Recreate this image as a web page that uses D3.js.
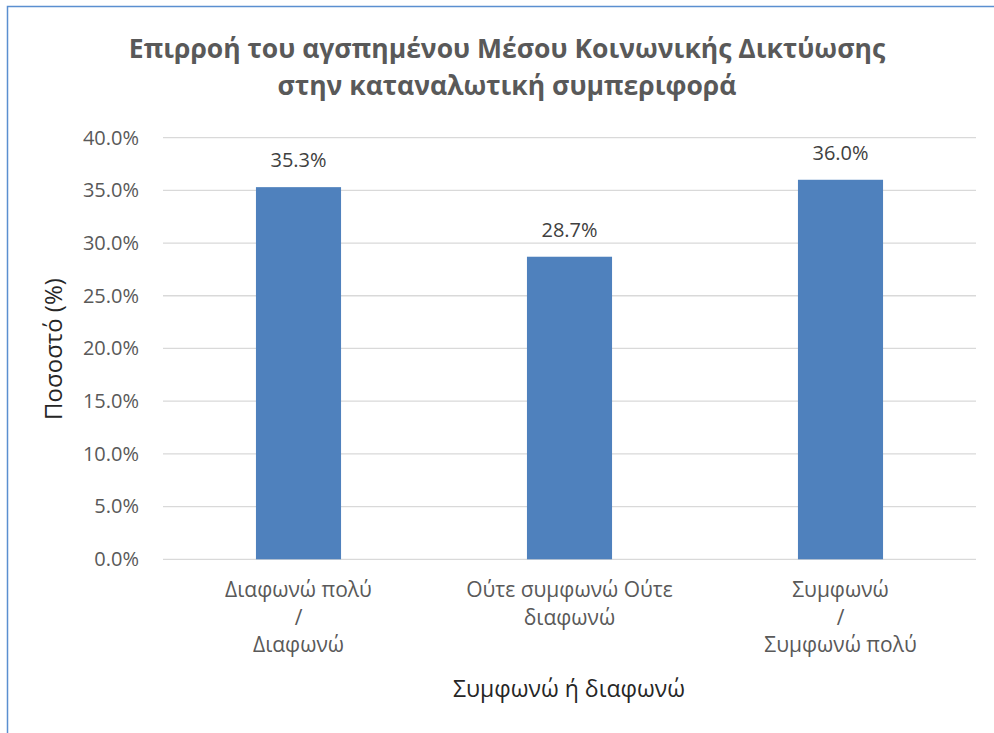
<!DOCTYPE html>
<html>
<head>
<meta charset="utf-8">
<script src="https://cdn.jsdelivr.net/npm/d3@7"></script>
<style>
  html, body { margin: 0; padding: 0; background: #fff; }
  svg { display: block; }
  text { font-family: "Open Sans", "Noto Sans", sans-serif; }
</style>
</head>
<body>
<svg id="chart" width="994" height="733"></svg>
<script>
// Survey answers and the share of respondents for each
const categories = [
  ["Διαφωνώ πολύ", "/", "Διαφωνώ"],
  ["Ούτε συμφωνώ Ούτε", "διαφωνώ"],
  ["Συμφωνώ", "/", "Συμφωνώ πολύ"]
];
const values = [35.3, 28.7, 36.0];
const yTicks = [0, 5, 10, 15, 20, 25, 30, 35, 40];
const titleLines = ["Επιρροή του αγσπημένου Μέσου Κοινωνικής Δικτύωσης", "στην καταναλωτική συμπεριφορά"];
const yTitle = "Ποσοστό (%)";
const xTitle = "Συμφωνώ ή διαφωνώ";

const svg = d3.select("#chart");

// outer chart frame
svg.append("rect")
  .attr("x", 7.5).attr("y", 6.5)
  .attr("width", 1000).attr("height", 800)
  .attr("fill", "#fff")
  .attr("stroke", "#5B8FD0").attr("stroke-width", 1.5);

const plot = { left: 163, right: 976, top: 137.6, bottom: 559.3 };
const keys = categories.map((d, i) => i);

const x = d3.scaleBand().domain(keys).range([plot.left, plot.right]).padding(0);
const barW = x.bandwidth() * 0.314;
const y = d3.scaleLinear().domain([0, 40]).range([plot.bottom, plot.top]);

// horizontal gridlines
svg.append("g")
  .selectAll("line")
  .data(yTicks)
  .join("line")
  .attr("x1", plot.left).attr("x2", plot.right)
  .attr("y1", d => y(d)).attr("y2", d => y(d))
  .attr("stroke", "#D9D9D9").attr("stroke-width", 1.3);

// y axis tick labels
const yAxis = d3.axisLeft(y).tickValues(yTicks).tickSize(0).tickPadding(0)
  .tickFormat(d => d.toFixed(1) + "%");
svg.append("g")
  .attr("transform", `translate(${plot.left - 24},0)`)
  .call(yAxis)
  .call(g => g.select(".domain").remove())
  .call(g => g.selectAll("text")
    .attr("fill", "#595959")
    .style("font-size", "20px")
    .style("font-family", "'Open Sans', sans-serif"));

// bars
svg.append("g")
  .selectAll("rect")
  .data(values)
  .join("rect")
  .attr("x", (d, i) => x(i) + x.bandwidth() / 2 - barW / 2)
  .attr("width", barW)
  .attr("y", d => y(d))
  .attr("height", d => y(0) - y(d))
  .attr("fill", "#4F81BD");

// value labels
svg.append("g")
  .selectAll("text")
  .data(values)
  .join("text")
  .attr("x", (d, i) => x(i) + x.bandwidth() / 2)
  .attr("y", d => y(d) - 20)
  .attr("text-anchor", "middle")
  .attr("fill", "#404040")
  .style("font-size", "20px")
  .text(d => d.toFixed(1) + "%");

// category labels (multi-line)
const catG = svg.append("g");
categories.forEach((lines, i) => {
  const t = catG.append("text")
    .attr("text-anchor", "middle")
    .attr("fill", "#595959")
    .style("font-size", "21px");
  lines.forEach((ln, j) => {
    t.append("tspan")
      .attr("x", x(i) + x.bandwidth() / 2)
      .attr("y", 597 + j * 27.5)
      .text(ln);
  });
});

// chart title
const title = svg.append("text")
  .attr("text-anchor", "middle")
  .attr("fill", "#595959")
  .style("font-size", "26.5px")
  .style("font-weight", "bold");
titleLines.forEach((ln, j) => {
  title.append("tspan")
    .attr("x", 507)
    .attr("y", 58 + j * 37)
    .text(ln);
});

// axis titles
svg.append("text")
  .attr("transform", `translate(62,349) rotate(-90)`)
  .attr("text-anchor", "middle")
  .attr("fill", "#262626")
  .style("font-size", "24px")
  .text(yTitle);

svg.append("text")
  .attr("x", 569).attr("y", 697)
  .attr("text-anchor", "middle")
  .attr("fill", "#262626")
  .style("font-size", "23px")
  .text(xTitle);
</script>
</body>
</html>
